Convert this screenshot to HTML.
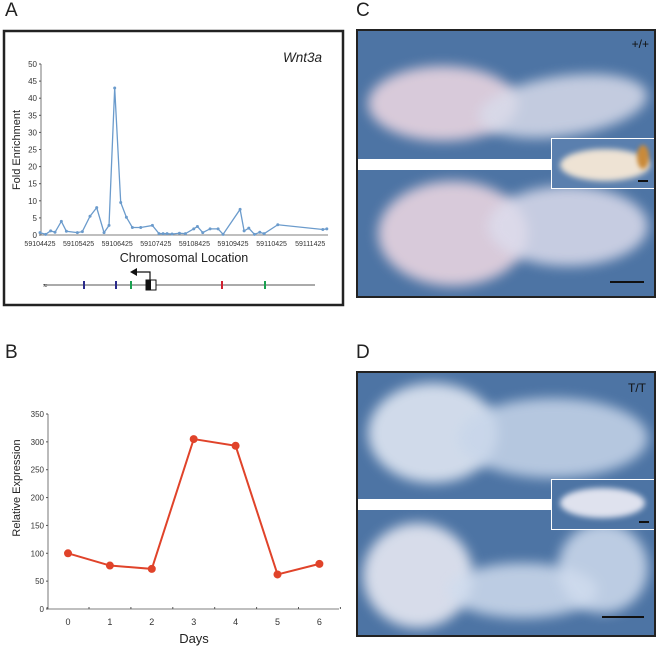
<!DOCTYPE html>
<html><head><meta charset="utf-8"><style>
body{margin:0;background:#fff;width:661px;height:648px;overflow:hidden;font-family:"Liberation Sans",sans-serif}
.lbl{position:absolute;font-size:19px;color:#222}
.photo{position:absolute;background:#4d74a4;border:2px solid #222;overflow:hidden;box-sizing:border-box}
.blob{position:absolute;border-radius:50%;filter:blur(6px)}
</style></head><body>
<div class="lbl" style="left:5px;top:0px">A</div>
<div class="lbl" style="left:5px;top:342px">B</div>
<div class="lbl" style="left:356px;top:0px">C</div>
<div class="lbl" style="left:356px;top:342px">D</div>

<svg id="chartA" width="345" height="310" style="position:absolute;left:0;top:0" font-family="Liberation Sans, sans-serif"></svg>
<svg id="chartB" width="345" height="300" style="position:absolute;left:0;top:348px" font-family="Liberation Sans, sans-serif"></svg>

<div class="photo" style="left:356px;top:29px;width:300px;height:269px">
  <div class="blob" style="left:10px;top:35px;width:150px;height:75px;background:#e8d4e0;opacity:.9"></div>
  <div class="blob" style="left:120px;top:45px;width:170px;height:60px;background:#d8dbea;opacity:.85;transform:rotate(-8deg)"></div>
  <div class="blob" style="left:20px;top:150px;width:150px;height:105px;background:#e8d4e0;opacity:.9"></div>
  <div class="blob" style="left:130px;top:155px;width:160px;height:80px;background:#dcdcec;opacity:.85"></div>
  <div style="position:absolute;left:0;top:128px;width:300px;height:11px;background:#fff"></div>
  <div style="position:absolute;left:193px;top:107px;width:105px;height:51px;border:1px solid #fff;background:#5a7fae;box-sizing:border-box">
    <div class="blob" style="left:8px;top:10px;width:90px;height:32px;background:#eee3d4;filter:blur(3px)"></div>
    <div style="position:absolute;right:6px;top:6px;width:12px;height:24px;background:#c98a3a;border-radius:50%;filter:blur(2px)"></div>
    <div style="position:absolute;right:7px;bottom:6px;width:10px;height:2px;background:#111"></div>
  </div>
  <div style="position:absolute;right:5px;top:6px;font-size:12px;color:#111">+/+</div>
  <div style="position:absolute;right:10px;bottom:13px;width:34px;height:2px;background:#111"></div>
</div>

<div class="photo" style="left:356px;top:371px;width:300px;height:266px">
  <div class="blob" style="left:10px;top:10px;width:130px;height:100px;background:#dfe6f2;opacity:.9"></div>
  <div class="blob" style="left:100px;top:25px;width:190px;height:80px;background:#c8d6ea;opacity:.85"></div>
  <div class="blob" style="left:5px;top:150px;width:110px;height:105px;background:#e6e8f2;opacity:.9"></div>
  <div class="blob" style="left:90px;top:190px;width:150px;height:55px;background:#d0dcee;opacity:.85"></div>
  <div class="blob" style="left:200px;top:150px;width:90px;height:90px;background:#d0dcee;opacity:.85"></div>
  <div style="position:absolute;left:0;top:126px;width:300px;height:11px;background:#fff"></div>
  <div style="position:absolute;left:193px;top:106px;width:105px;height:51px;border:1px solid #fff;background:#4d74a4;box-sizing:border-box">
    <div class="blob" style="left:8px;top:8px;width:85px;height:30px;background:#dfe2ee;filter:blur(3px)"></div>
    <div style="position:absolute;right:6px;bottom:6px;width:10px;height:2px;background:#111"></div>
  </div>
  <div style="position:absolute;right:8px;top:8px;font-size:12px;color:#111">T/T</div>
  <div style="position:absolute;right:10px;bottom:17px;width:42px;height:2px;background:#111"></div>
</div>

<script>
const NS="http://www.w3.org/2000/svg";
const aPositions=[59104425,59104572,59104701,59104814,59104978,59105108,59105393,59105522,59105721,59105894,59106084,59106213,59106360,59106516,59106663,59106818,59107034,59107337,59107509,59107613,59107717,59107846,59108037,59108192,59108408,59108503,59108641,59108831,59109039,59109168,59109609,59109713,59109834,59109981,59110119,59110231,59110585,59111752,59111855];
const aValues=[0.7,0.2,1.2,0.8,4,1.1,0.7,1,5.5,8,0.7,2.8,43,9.5,5.2,2.2,2.2,2.8,0.4,0.4,0.4,0.3,0.5,0.4,1.8,2.5,0.7,1.8,1.8,0.2,7.5,1.2,2,0.2,0.8,0.4,3,1.6,1.8];
const aXTicks=[59104425,59105425,59106425,59107425,59108425,59109425,59110425,59111425];
const aYTicks=[0,5,10,15,20,25,30,35,40,45,50];
const bDays=[0,1,2,3,4,5,6];
const bValues=[100,78,72,305,293,62,81];
const bYTicks=[0,50,100,150,200,250,300,350];

function el(svg,tag,attrs,text){const e=document.createElementNS(NS,tag);for(const k in attrs)e.setAttribute(k,attrs[k]);if(text!==undefined)e.textContent=text;svg.appendChild(e);return e;}

// Chart A
const A=document.getElementById('chartA');
const ax=v=>40+(v-59104425)/1000*38.6, ay=v=>235-v*171/50;
let r=el(A,'rect',{x:4,y:31,width:339,height:274,fill:'none',stroke:'#222','stroke-width':2.5});

el(A,'line',{x1:41,y1:64,x2:41,y2:235,stroke:'#555','stroke-width':0.8});
el(A,'line',{x1:41,y1:235,x2:328,y2:235,stroke:'#555','stroke-width':0.8});
aYTicks.forEach(t=>{el(A,'line',{x1:39,x2:41,y1:ay(t),y2:ay(t),stroke:'#555'});
 const tx=el(A,'text',{x:37,y:ay(t)+3,'font-size':8,'text-anchor':'end',fill:'#333'},t);
 });
aXTicks.forEach(t=>{const tx=el(A,'text',{x:ax(t),y:246,'font-size':7,'text-anchor':'middle',fill:'#333'},t);
 });
let t1=el(A,'text',{x:184,y:262,'font-size':12.5,'text-anchor':'middle',fill:'#222'},'Chromosomal Location');

let t2=el(A,'text',{x:0,y:0,'font-size':11,'text-anchor':'middle',fill:'#222',transform:'translate(20,150) rotate(-90)'},'Fold Enrichment');

let t3=el(A,'text',{x:322,y:62,'font-size':13.5,'font-style':'italic','text-anchor':'end',fill:'#222'},'Wnt3a');

let pl=el(A,'polyline',{points:aPositions.map((p,i)=>ax(p)+','+ay(aValues[i])).join(' '),fill:'none',stroke:'#6b9bcc','stroke-width':1.3});

aPositions.forEach((p,i)=>{const c=el(A,'circle',{cx:ax(p),cy:ay(aValues[i]),r:1.5,fill:'#6b9bcc'});
 });
// gene diagram
el(A,'line',{x1:44,y1:285,x2:315,y2:285,stroke:'#555','stroke-width':1});
el(A,'text',{x:43,y:288,'font-size':8,fill:'#333'},'≈');
[[84,'#2a2a8a'],[116,'#2a2a8a'],[131,'#1aa050'],[222,'#d02030'],[265,'#1aa050']].forEach(([x,c])=>{el(A,'rect',{x:x-1,y:281,width:2,height:8,fill:c});});
el(A,'rect',{x:146,y:280,width:10,height:10,fill:'#fff',stroke:'#111','stroke-width':1});
el(A,'rect',{x:146,y:280,width:5,height:10,fill:'#111'});
el(A,'polyline',{points:'150,280 150,272 135,272',fill:'none',stroke:'#111','stroke-width':1.2});
el(A,'polygon',{points:'130,272 137,268 137,276',fill:'#111'});

// Chart B
const B=document.getElementById('chartB');
const bx=d=>68+d*41.9, by=v=>261-v*195/350;
el(B,'line',{x1:48,y1:66,x2:48,y2:261,stroke:'#555','stroke-width':0.8});
el(B,'line',{x1:48,y1:261,x2:339,y2:261,stroke:'#555','stroke-width':0.8});
bYTicks.forEach(t=>{el(B,'line',{x1:46,x2:48,y1:by(t),y2:by(t),stroke:'#555'});
 const tx=el(B,'text',{x:44,y:by(t)+3,'font-size':8,'text-anchor':'end',fill:'#333'},t);
 });
bDays.forEach(d=>{el(B,'line',{x1:bx(d)+21,x2:bx(d)+21,y1:259,y2:261,stroke:'#555'});
 const tx=el(B,'text',{x:bx(d),y:277,'font-size':9,'text-anchor':'middle',fill:'#333'},d);
 });
el(B,'line',{x1:bx(-1)+21,x2:bx(-1)+21,y1:259,y2:261,stroke:'#555'});
let t4=el(B,'text',{x:194,y:295,'font-size':13,'text-anchor':'middle',fill:'#222'},'Days');

let t5=el(B,'text',{x:0,y:0,'font-size':11,'text-anchor':'middle',fill:'#222',transform:'translate(20,140) rotate(-90)'},'Relative Expression');

let pl2=el(B,'polyline',{points:bDays.map((d,i)=>bx(d)+','+by(bValues[i])).join(' '),fill:'none',stroke:'#e0432a','stroke-width':2});

bDays.forEach((d,i)=>{const c=el(B,'circle',{cx:bx(d),cy:by(bValues[i]),r:4,fill:'#e0432a'});
 });
</script>
</body></html>
